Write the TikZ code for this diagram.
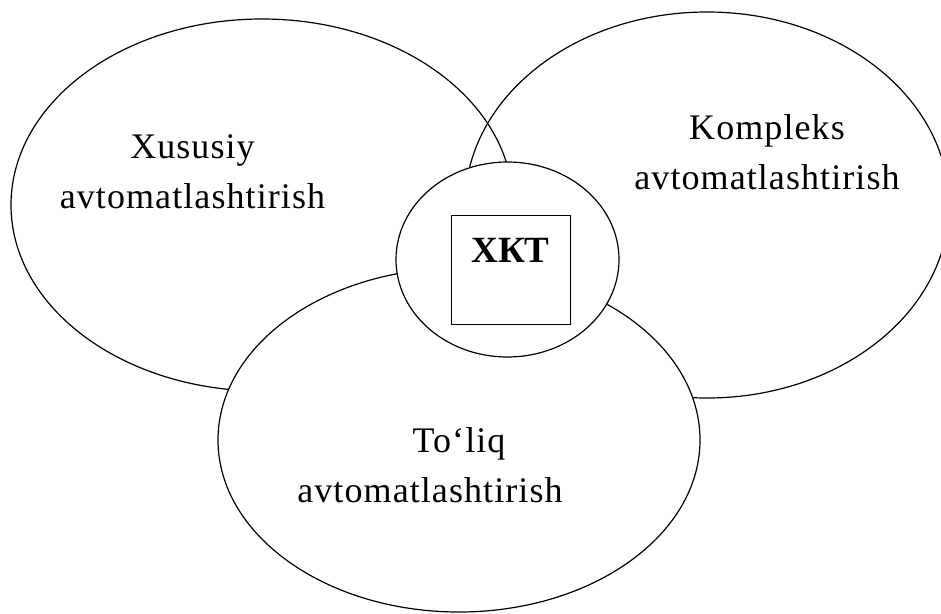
\documentclass[tikz,border=0pt]{standalone}
\usepackage{fontspec}
\setmainfont{Liberation Serif}
\newfontfamily\spaced[LetterSpace=3]{Liberation Serif}
\usetikzlibrary{shapes.geometric,positioning}

\begin{document}
\begin{tikzpicture}[x=1pt, y=-1pt,
  zone/.style={ellipse, draw=black, line width=1.2pt, inner sep=0pt},
  blank/.style={fill=white},
  lbl/.style={align=center, anchor=base, inner sep=0pt,
              font=\spaced\fontsize{36}{50}\selectfont},
  core/.style={draw=black, line width=0.8pt, inner sep=0pt, anchor=base,
               minimum width=119pt, text height=47pt, text depth=62pt,
               font=\bfseries\fontsize{37}{40}\selectfont}
]
\useasboundingbox (0,0) rectangle (941,613);

% three zones
\node[zone, minimum width=502pt, minimum height=372pt] (xus) at (262,205) {};
\node[zone, minimum width=484pt, minimum height=386pt] (kom) at (707,205) {};
\node[zone, blank, minimum width=482pt, minimum height=344pt] (tol) at (459,440) {};
\node[zone, blank, minimum width=223pt, minimum height=195pt] (mid) at (507.5,259.5) {};

% centre box
\node[core] (xkt) at (510.5,262) {ХКТ};

% labels (base = last line)
\node[lbl] (xusl) at (192.5,208) {Xususiy\\avtomatlashtirish};
\node[lbl] (koml) at (767,189) {Kompleks\\avtomatlashtirish};
\node[lbl] (toll) at (430,502) {\hspace*{58pt}To‘liq\\avtomatlashtirish};
\end{tikzpicture}
\end{document}
